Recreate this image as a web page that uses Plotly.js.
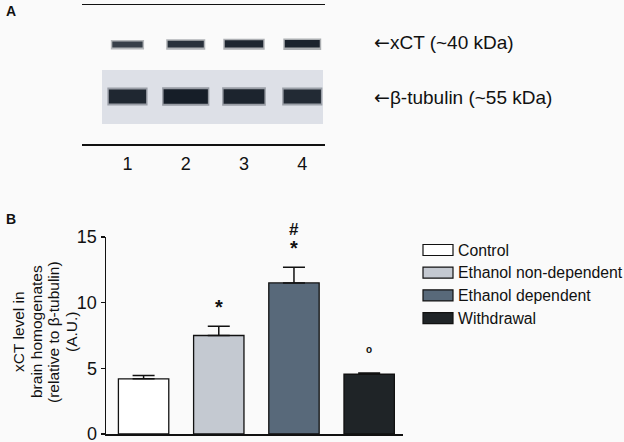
<!DOCTYPE html>
<html>
<head>
<meta charset="utf-8">
<script src="https://cdn.plot.ly/plotly-3.0.1.min.js"></script>
<style>html,body{margin:0;padding:0;background:#fafafa;}#chart{width:624px;height:442px;}</style>
</head>
<body>
<div id="chart"></div>
<script>
// ---- Panel B data ----
var groups = ['Control', 'Ethanol non-dependent', 'Ethanol dependent', 'Withdrawal'];
var xctLevel = [4.2, 7.5, 11.5, 4.55];
var xctSem = [0.25, 0.7, 1.2, 0.1];
var groupColors = ['#ffffff', '#c4c9d1', '#58697a', '#1f2427'];
var starMarks = ['', '*', '*', ''];
var hashMarks = ['', '', '#', ''];
var circleMarks = ['', '', '', 'o'];
var yTicks = [0, 5, 10, 15];
var yTitleLines = ['xCT level in', 'brain homogenates', '(relative to \u03b2-tubulin)', '(A.U.)'];

// ---- Panel A data (western blot) ----
var lanes = ['1', '2', '3', '4'];
var xctIntensity = [0.6, 0.75, 0.85, 0.9];
var tubulinIntensity = [0.85, 0.95, 0.88, 0.82];
var blotLabels = ['xCT (~40 kDa)', '\u03b2-tubulin (~55 kDa)'];

var W = 624, H = 442;
function px(x) { return x / W; }
function py(y) { return 1 - y / H; }
function shade(i) {
  var v = Math.round(120 - 95 * i);
  return 'rgb(' + (v - 8) + ',' + v + ',' + (v + 10) + ')';
}

var font = 'Liberation Sans, Arial, sans-serif';
var laneIdx = lanes.map(function (_, i) { return i; });
var xctW = [0.52, 0.62, 0.66, 0.6];
var tubW = [0.64, 0.76, 0.7, 0.64];

var traces = [];
// xCT bands (soft halo + core)
traces.push({
  type: 'bar', x: laneIdx, y: xctIntensity.map(function (v) { return 6 + 6 * v; }),
  base: xctIntensity.map(function (v) { return 33 + 5 * (1 - v); }),
  width: xctW.map(function (w) { return w + 0.05; }), opacity: 0.35,
  marker: { color: xctIntensity.map(shade), line: { width: 0 } },
  xaxis: 'x2', yaxis: 'y2', hoverinfo: 'skip', showlegend: false
});
traces.push({
  type: 'bar', x: laneIdx, y: xctIntensity.map(function (v) { return 3 + 5 * v; }),
  base: xctIntensity.map(function (v) { return 34.5 + 5 * (1 - v); }),
  width: xctW,
  marker: { color: xctIntensity.map(shade), line: { width: 0 } },
  xaxis: 'x2', yaxis: 'y2', hoverinfo: 'skip', showlegend: false
});
// tubulin bands (soft halo + core)
traces.push({
  type: 'bar', x: laneIdx, y: tubulinIntensity.map(function (v) { return 13 + 6 * v; }),
  base: tubulinIntensity.map(function (v) { return 82 + 3 * (1 - v); }),
  width: tubW.map(function (w) { return w + 0.05; }), opacity: 0.35,
  marker: { color: tubulinIntensity.map(shade), line: { width: 0 } },
  xaxis: 'x2', yaxis: 'y2', hoverinfo: 'skip', showlegend: false
});
traces.push({
  type: 'bar', x: laneIdx, y: tubulinIntensity.map(function (v) { return 9 + 6 * v; }),
  base: tubulinIntensity.map(function (v) { return 84 + 3 * (1 - v); }),
  width: tubW,
  marker: { color: tubulinIntensity.map(shade), line: { width: 0 } },
  xaxis: 'x2', yaxis: 'y2', hoverinfo: 'skip', showlegend: false
});
// Panel B bars
traces.push({
  type: 'bar', x: groups, y: xctLevel, width: 0.67,
  marker: { color: groupColors, line: { color: '#111', width: 1.3 } },
  error_y: { type: 'data', array: xctSem, arrayminus: xctSem.map(function () { return 0; }),
             symmetric: false, color: '#111', thickness: 1.5, width: 11 },
  xaxis: 'x', yaxis: 'y', showlegend: false, hoverinfo: 'skip'
});

var annotations = [];
// panel letters
annotations.push({ text: '<b>A</b>', x: px(4), y: py(11), xref: 'paper', yref: 'paper', xanchor: 'left', yanchor: 'middle', showarrow: false, font: { family: font, size: 14, color: '#111' } });
annotations.push({ text: '<b>B</b>', x: px(4), y: py(219), xref: 'paper', yref: 'paper', xanchor: 'left', yanchor: 'middle', showarrow: false, font: { family: font, size: 14, color: '#111' } });
// blot labels
[42, 97].forEach(function (yy, i) {
  annotations.push({ text: '<span style="font-family:DejaVu Sans">\u2190</span>' + blotLabels[i], x: px(372), y: py(yy), xref: 'paper', yref: 'paper', xanchor: 'left', yanchor: 'middle', showarrow: false, font: { family: font, size: 19, color: '#111' } });
});
// y title, one centred line each
[18, 36, 53, 71].forEach(function (xx, i) {
  annotations.push({ text: yTitleLines[i], x: px(xx), y: py(332), xref: 'paper', yref: 'paper', xanchor: 'center', yanchor: 'middle', textangle: -90, showarrow: false, font: { family: font, size: 15.5, color: '#111' } });
});
// significance marks
groups.forEach(function (g, i) {
  var top = xctLevel[i] + xctSem[i];
  if (starMarks[i]) annotations.push({ text: '<b>' + starMarks[i] + '</b>', x: g, y: top + 1.45, xref: 'x', yref: 'y', xanchor: 'center', yanchor: 'middle', showarrow: false, font: { family: font, size: 20, color: '#111' } });
  if (hashMarks[i]) annotations.push({ text: '<b>' + hashMarks[i] + '</b>', x: g, y: top + 1.45, yshift: 19, xref: 'x', yref: 'y', xanchor: 'center', yanchor: 'middle', showarrow: false, font: { family: font, size: 17, color: '#111' } });
  if (circleMarks[i]) annotations.push({ text: '<b>' + circleMarks[i] + '</b>', x: g, y: top + 1.75, xref: 'x', yref: 'y', xanchor: 'center', yanchor: 'middle', showarrow: false, font: { family: font, size: 10, color: '#111' } });
});
// blot background + legend
var shapes = [];
shapes.push({ type: 'rect', xref: 'paper', yref: 'paper', x0: px(102), x1: px(323), y0: py(124), y1: py(70), fillcolor: '#dde0e7', line: { width: 0 }, layer: 'below' });
groups.forEach(function (g, i) {
  var cy = 250 + i * 22.7;
  shapes.push({ type: 'rect', xref: 'paper', yref: 'paper', x0: px(423), x1: px(453), y0: py(cy + 5.5), y1: py(cy - 5.5), fillcolor: groupColors[i], line: { color: '#111', width: 1.2 } });
  annotations.push({ text: g, x: px(456), y: py(cy), xref: 'paper', yref: 'paper', xanchor: 'left', yanchor: 'middle', showarrow: false, font: { family: font, size: 15.8, color: '#111' } });
});

var layout = {
  width: W, height: H,
  margin: { l: 0, r: 0, t: 0, b: 0 },
  paper_bgcolor: '#fafafa', plot_bgcolor: 'rgba(0,0,0,0)',
  font: { family: font, color: '#111' },
  showlegend: false, barmode: 'overlay',
  xaxis: { domain: [px(106), px(403)], range: [-0.5, 3.45], showticklabels: false, ticks: '', showgrid: false, zeroline: false, showline: true, linecolor: '#111', linewidth: 1.5, fixedrange: true },
  yaxis: { domain: [py(434), py(237)], range: [0, 15], tickvals: yTicks, ticks: 'outside', ticklen: 4, tickwidth: 1.5, tickcolor: '#111', showgrid: false, zeroline: false, showline: true, linecolor: '#111', linewidth: 1.5, tickfont: { family: font, size: 18, color: '#111' }, ticklabeloverflow: 'allow', ticklabelstandoff: 0, fixedrange: true },
  xaxis2: { domain: [px(82), px(325)], range: [-0.78, 3.39], anchor: 'y2', tickvals: laneIdx, ticktext: lanes, ticks: '', showgrid: false, zeroline: false, showline: true, mirror: true, linecolor: '#111', linewidth: 1.5, tickfont: { family: font, size: 18, color: '#111' }, ticklabelstandoff: 3 },
  yaxis2: { domain: [py(144), py(5)], range: [139, 0], anchor: 'x2', visible: false, showgrid: false, zeroline: false },
  annotations: annotations,
  shapes: shapes
};

Plotly.newPlot('chart', traces, layout, { staticPlot: true });
</script>
</body>
</html>
